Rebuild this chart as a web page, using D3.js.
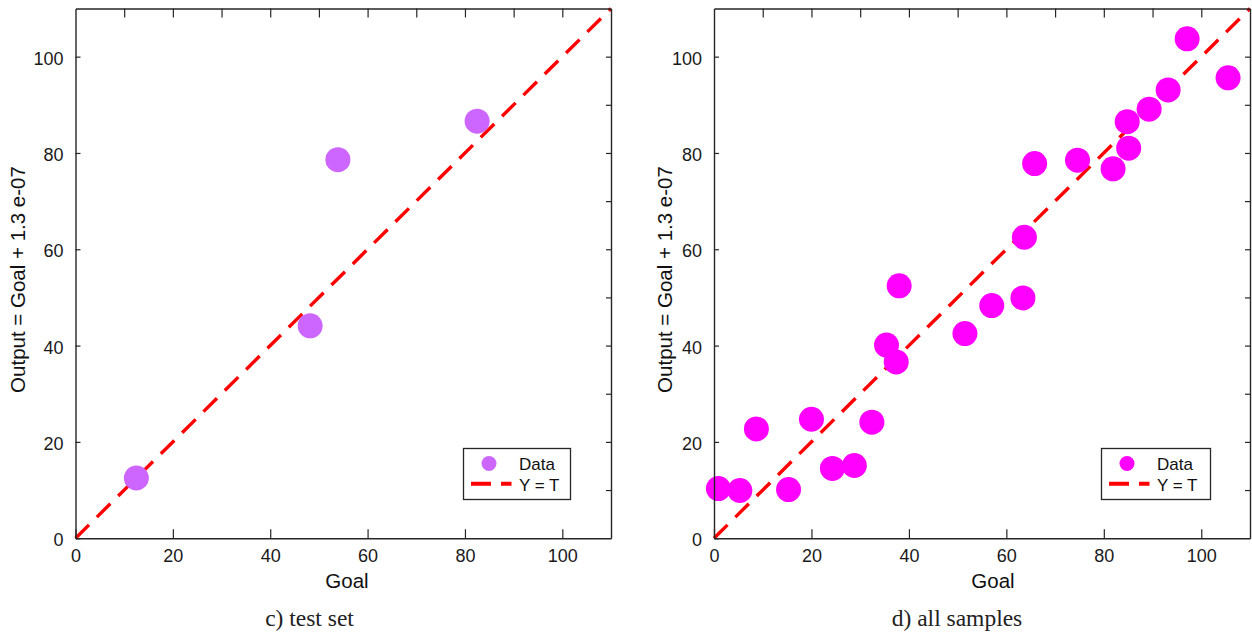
<!DOCTYPE html>
<html>
<head>
<meta charset="utf-8">
<script src="https://cdn.jsdelivr.net/npm/d3@7"></script>
<style>
  html, body { margin: 0; padding: 0; background: #fff; }
  svg { display: block; }
  .tick text { font-family: "Liberation Sans", Arial, sans-serif; font-size: 18px; fill: #1a1a1a; }
</style>
</head>
<body>
<svg id="chart" width="1252" height="637"></svg>
<script>
// Regression scatter: network output vs. goal, test set and all samples
const goalTest   = [12.5, 48.2, 53.9, 82.5];
const outputTest = [12.5, 44.1, 78.6, 86.6];

const goalAll   = [0.9, 5.3, 8.7, 15.3, 20.0, 24.3, 28.8, 32.4, 35.4, 37.4, 38.0, 51.5,
                   57.0, 63.4, 63.7, 65.8, 74.6, 81.9, 84.8, 85.1, 89.3, 93.2, 97.1, 105.5];
const outputAll = [10.3, 9.9, 22.7, 10.1, 24.7, 14.5, 15.1, 24.1, 40.1, 36.6, 52.4, 42.5,
                   48.3, 49.9, 62.5, 77.8, 78.5, 76.7, 86.5, 81.0, 89.1, 93.1, 103.7, 95.6];

const axisDomain   = [0, 110];
const labelTicks   = [0, 20, 40, 60, 80, 100];
const minorTicks   = [10, 20, 30, 40, 50, 60, 70, 80, 90, 100];
const identityLine = [0, 110];

const legendLabels = ["Data", "Y = T"];
const xTitle = "Goal";
const yTitle = "Output = Goal + 1.3 e-07";

const panels = [
  { goal: goalTest, output: outputTest, color: "#CC66FF", caption: "c) test set",
    left: 75.5, right: 611, captionX: 309.5, xTitleX: 347, yTitleX: 25,
    legend: { x: 463.5, y: 448.5, w: 107, h: 51 } },
  { goal: goalAll, output: outputAll, color: "#FF00FF", caption: "d) all samples",
    left: 714, right: 1250, captionX: 957, xTitleX: 993, yTitleX: 672,
    legend: { x: 1101.5, y: 448.5, w: 109, h: 51 } }
];

const plotTop = 8.5, plotBottom = 538.2;
const ink = "#262626";
const svg = d3.select("#chart");

panels.forEach(p => {
  const x = d3.scaleLinear().domain(axisDomain).range([p.left, p.right]);
  const y = d3.scaleLinear().domain(axisDomain).range([plotBottom, plotTop]);
  const g = svg.append("g");

  // Y = T reference line
  g.append("line")
    .attr("x1", x(identityLine[0])).attr("y1", y(identityLine[0]))
    .attr("x2", x(identityLine[1])).attr("y2", y(identityLine[1]))
    .attr("stroke", "#FF0000").attr("stroke-width", 3.4)
    .attr("stroke-dasharray", "19,11");

  // data points
  g.append("g").selectAll("circle")
    .data(d3.zip(p.goal, p.output))
    .join("circle")
    .attr("cx", d => x(d[0])).attr("cy", d => y(d[1]))
    .attr("r", 12.5).attr("fill", p.color);

  // axes with inward ticks
  const styleAxis = sel => {
    sel.select(".domain").attr("stroke", ink).attr("stroke-width", 1.4);
    sel.selectAll(".tick line").attr("stroke", ink).attr("stroke-width", 1.2);
  };
  g.append("g").attr("transform", `translate(0,${plotBottom})`)
    .call(d3.axisBottom(x).tickValues(labelTicks).tickFormat(d3.format("d"))
      .tickSizeInner(-9).tickSizeOuter(0).tickPadding(11.5))
    .call(styleAxis);
  g.append("g").attr("transform", `translate(0,${plotTop})`)
    .call(d3.axisTop(x).tickValues(minorTicks).tickFormat("")
      .tickSizeInner(-9).tickSizeOuter(0))
    .call(styleAxis);
  g.append("g").attr("transform", `translate(${p.left},0)`)
    .call(d3.axisLeft(y).tickValues(labelTicks).tickFormat(d3.format("d"))
      .tickSizeInner(-5).tickSizeOuter(0).tickPadding(12))
    .call(styleAxis)
    .selectAll(".tick text").attr("dy", "0.42em");
  g.append("g").attr("transform", `translate(${p.right},0)`)
    .call(d3.axisRight(y).tickValues(minorTicks).tickFormat("")
      .tickSizeInner(-5).tickSizeOuter(0))
    .call(styleAxis);

  // axis titles
  g.append("text")
    .attr("x", p.xTitleX).attr("y", 588)
    .attr("text-anchor", "middle")
    .attr("font-family", "Liberation Sans, Arial, sans-serif")
    .attr("font-size", 20.5).attr("fill", "#111")
    .text(xTitle);
  g.append("text")
    .attr("transform", `translate(${p.yTitleX},279.5) rotate(-90)`)
    .attr("text-anchor", "middle")
    .attr("font-family", "Liberation Sans, Arial, sans-serif")
    .attr("font-size", 20.5).attr("fill", "#111")
    .text(yTitle);

  // panel caption
  g.append("text")
    .attr("x", p.captionX).attr("y", 626)
    .attr("text-anchor", "middle")
    .attr("font-family", "Liberation Serif, Times New Roman, serif")
    .attr("font-size", 23.5).attr("fill", "#222")
    .text(p.caption);

  // legend
  const L = p.legend;
  const lg = g.append("g").attr("transform", `translate(${L.x},${L.y})`);
  lg.append("rect").attr("width", L.w).attr("height", L.h)
    .attr("fill", "#fff").attr("stroke", ink).attr("stroke-width", 1.3);
  lg.append("circle").attr("cx", 25.5).attr("cy", 15).attr("r", 7.5).attr("fill", p.color);
  lg.append("line").attr("x1", 7.5).attr("x2", 48).attr("y1", 35.3).attr("y2", 35.3)
    .attr("stroke", "#FF0000").attr("stroke-width", 4)
    .attr("stroke-dasharray", "20,10");
  lg.selectAll("text.lab").data(legendLabels).join("text")
    .attr("class", "lab")
    .attr("x", 55.5).attr("y", (d, i) => 21 + i * 21.4)
    .attr("font-family", "Liberation Sans, Arial, sans-serif")
    .attr("font-size", 17).attr("fill", "#111")
    .text(d => d);
});
</script>
</body>
</html>
